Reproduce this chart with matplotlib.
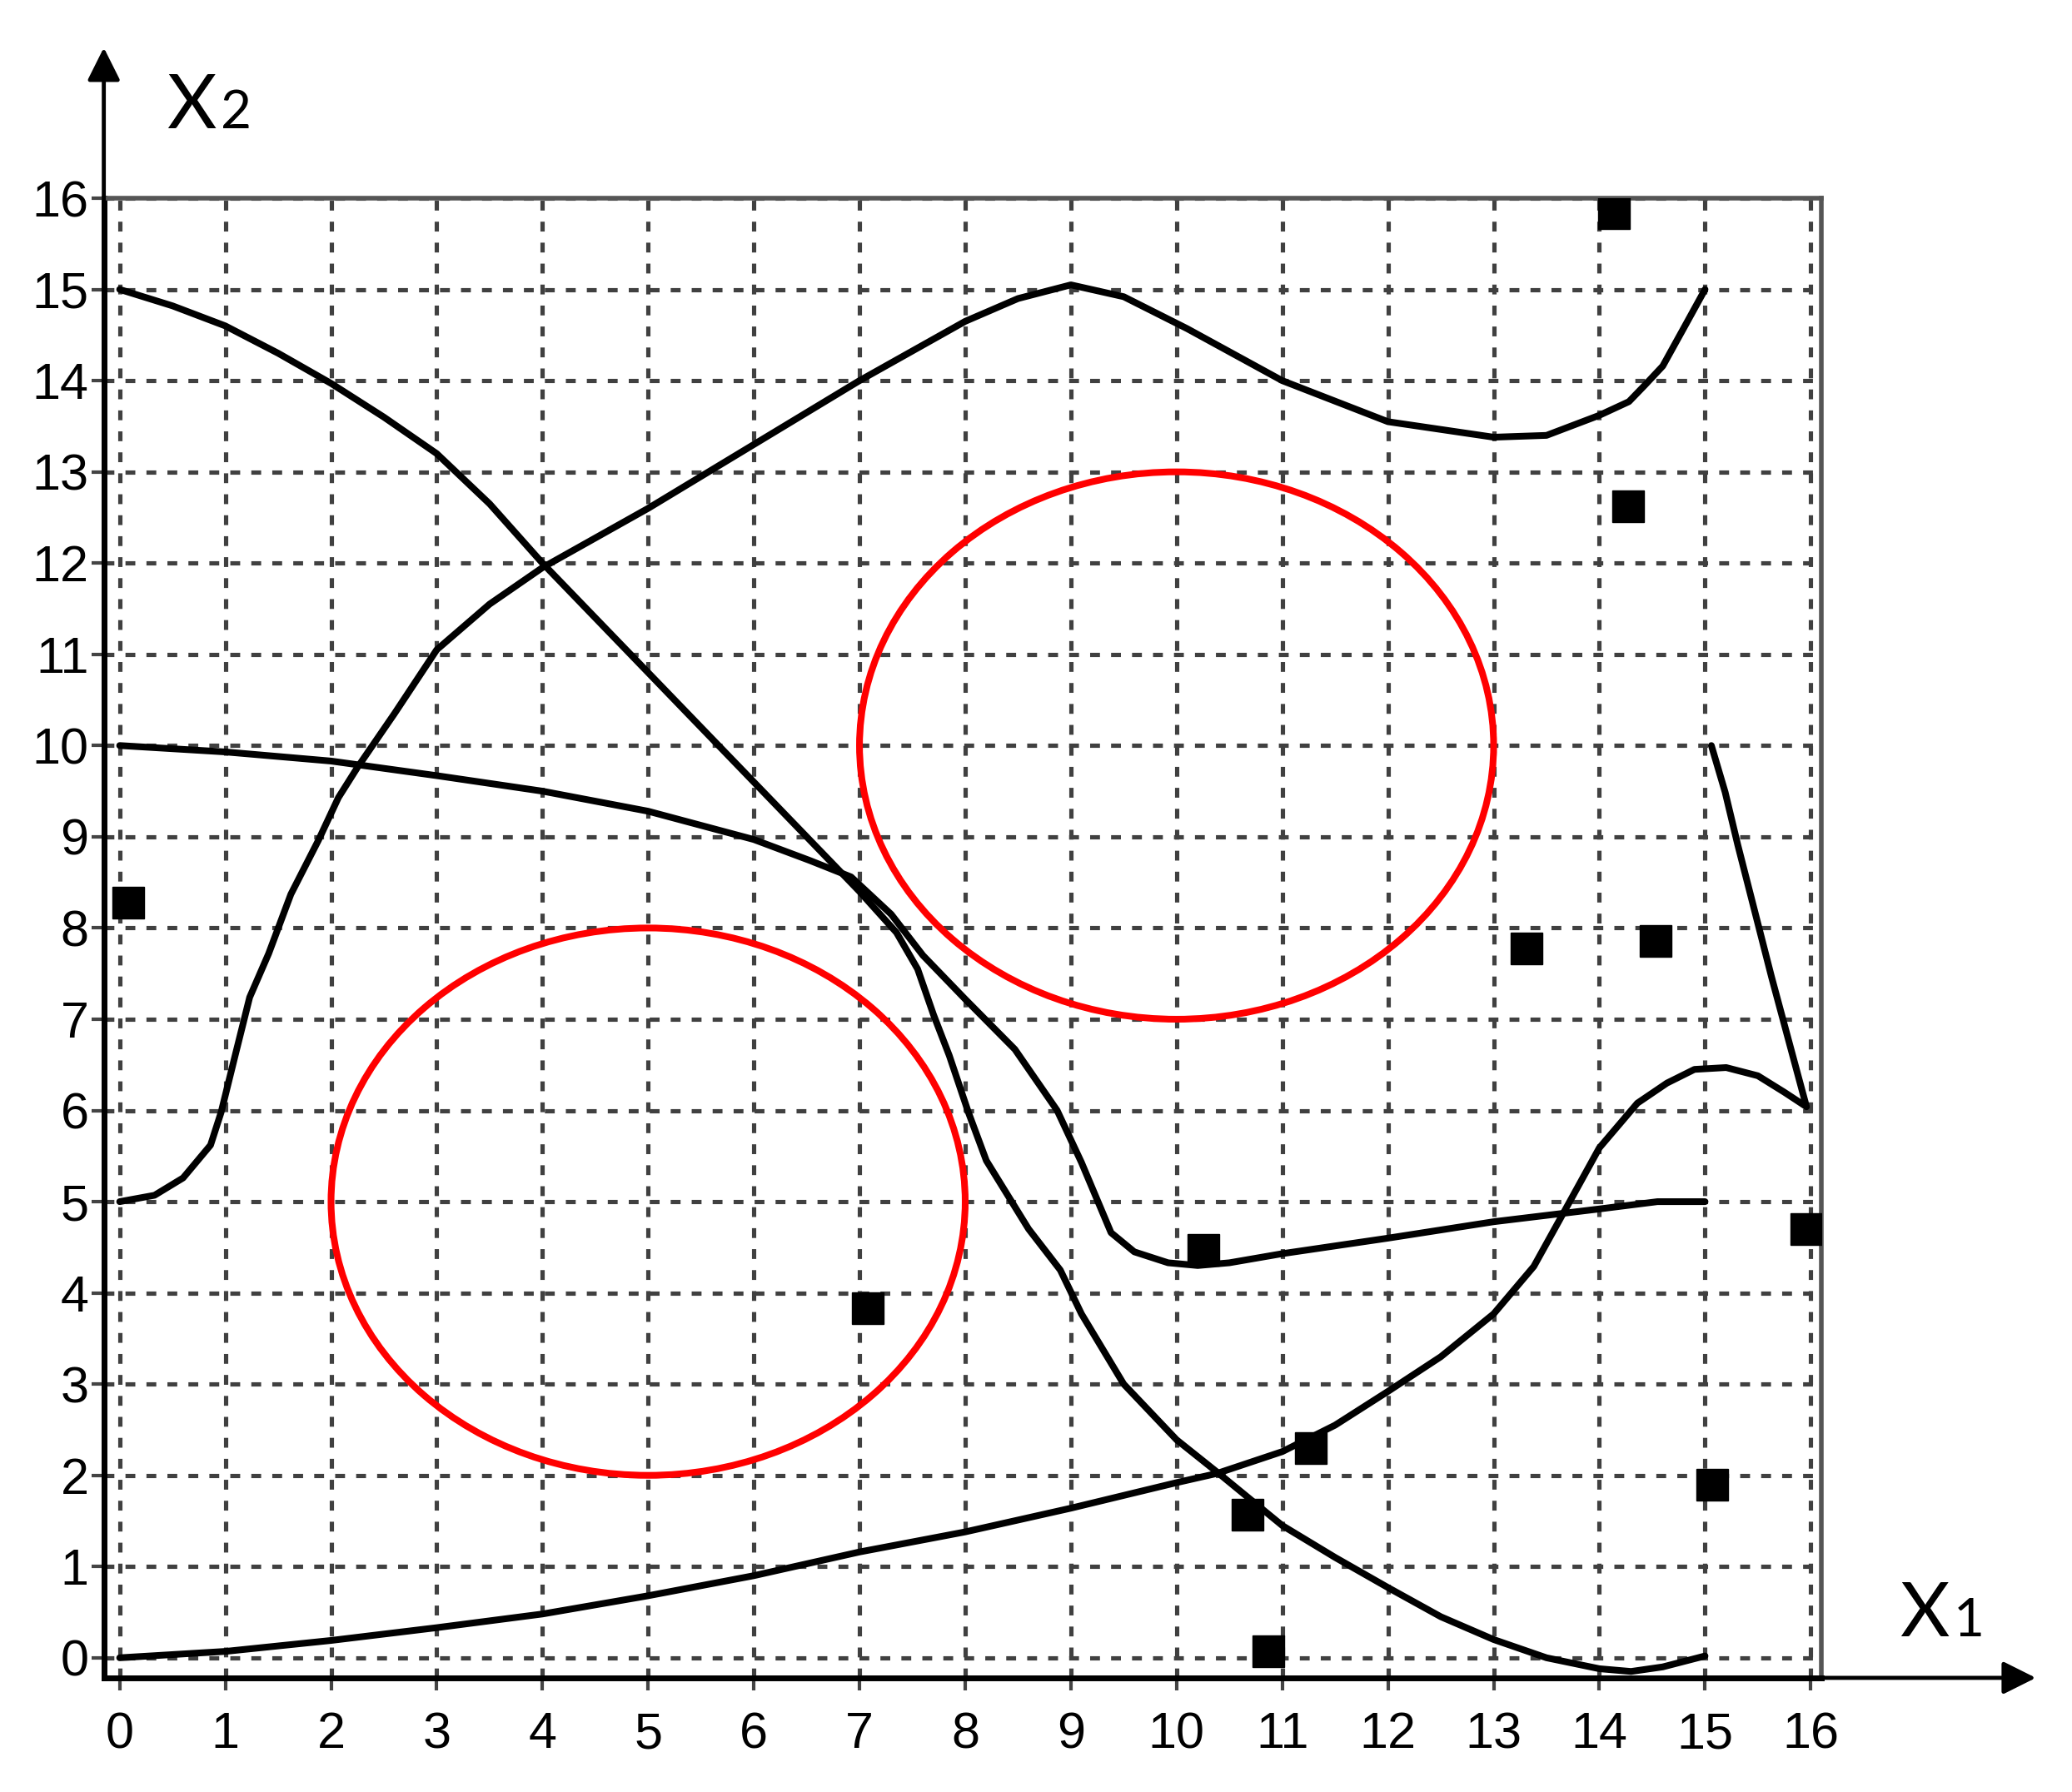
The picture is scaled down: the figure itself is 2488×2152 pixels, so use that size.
import numpy as np
import matplotlib
matplotlib.use("Agg")
import matplotlib.pyplot as plt
from matplotlib.patches import Ellipse

plt.rcParams["font.family"] = ["Liberation Sans", "DejaVu Sans"]

# --- data ---
ticks = list(range(17))

curve_a_x = [0, 0.5, 1, 1.5, 2, 2.5, 3, 3.5, 4, 4.5, 5, 5.5, 6, 6.5, 7, 7.35, 7.55, 7.7,
             7.85, 8.03, 8.2, 8.6, 8.9, 9.1, 9.5, 10, 10.4, 11, 11.5, 12, 12.5, 13, 13.5,
             14, 14.3, 14.6, 15]
curve_a_y = [15, 14.82, 14.6, 14.3, 13.97, 13.6, 13.2, 12.65, 12.0, 11.4, 10.8, 10.2, 9.6,
             9.0, 8.4, 7.95, 7.55, 7.05, 6.6, 5.98, 5.45, 4.7, 4.25, 3.77, 3.0, 2.39, 2.02,
             1.45, 1.1, 0.77, 0.45, 0.2, 0.0, -0.12, -0.15, -0.1, 0.02]

curve_b_x = [0, 0.33, 0.6, 0.86, 0.96, 1.09, 1.23, 1.41, 1.62, 1.88, 2.07, 2.25, 2.6, 3.0,
             3.5, 4.0, 5, 6, 7, 8, 8.5, 9.0, 9.5, 10.1, 11, 12, 13, 13.5, 14.0, 14.28,
             14.43, 14.6, 14.81, 15]
curve_b_y = [5, 5.07, 5.26, 5.62, 5.98, 6.59, 7.24, 7.72, 8.37, 8.96, 9.43, 9.76, 10.35,
             11.05, 11.55, 11.95, 12.6, 13.3, 14.0, 14.65, 14.9, 15.05, 14.92, 14.57, 14.0,
             13.55, 13.38, 13.4, 13.62, 13.77, 13.95, 14.16, 14.6, 15.0]

curve_c_x = [0, 1, 2, 3, 4, 5, 6, 6.53, 6.92, 7.3, 7.6, 8.0, 8.47, 8.87, 9.1, 9.38, 9.6,
             9.92, 10.2, 10.5, 11, 12, 13, 14, 14.55, 15]
curve_c_y = [10, 9.93, 9.83, 9.67, 9.5, 9.28, 8.97, 8.74, 8.56, 8.15, 7.7, 7.22, 6.67, 6.0,
             5.43, 4.66, 4.45, 4.33, 4.3, 4.33, 4.43, 4.6, 4.78, 4.92, 5.0, 5.0]

curve_d_x = [0, 1, 2, 3, 4, 5, 6, 7, 8, 9, 10, 10.38, 11, 11.5, 12, 12.5, 13, 13.38, 13.71,
             14.0, 14.36, 14.64, 14.9, 15.2, 15.5, 15.75, 15.96, 15.63, 15.31, 15.19, 15.06]
curve_d_y = [0, 0.07, 0.19, 0.33, 0.48, 0.68, 0.9, 1.16, 1.38, 1.64, 1.92, 2.02, 2.26,
             2.55, 2.92, 3.3, 3.77, 4.29, 4.98, 5.59, 6.08, 6.3, 6.45, 6.47, 6.38, 6.2,
             6.04, 7.46, 8.91, 9.49, 10.0]

circle_cx = [5, 10]
circle_cy = [5, 10]
circle_r = [3, 3]

points_x = [0.08, 7.08, 10.25, 10.67, 11.27, 10.87, 14.14, 14.27, 13.31, 14.53, 15.96, 15.07]
points_y = [8.28, 3.83, 4.47, 1.57, 2.30, 0.07, 15.84, 12.62, 7.78, 7.86, 4.70, 1.90]

# --- figure ---
fig = plt.figure(figsize=(24.88, 21.52), dpi=100)
ax = fig.add_axes([0.0501, 0.0637, 0.879 - 0.0501, 0.8894 - 0.0637])
xmin, xmax = -0.15, 16.1
ymin, ymax = -0.22, 16.0
ax.set_xlim(xmin, xmax)
ax.set_ylim(ymin, ymax)

ax.set_xticks(ticks)
ax.set_yticks(ticks)
ax.set_axisbelow(True)
ax.grid(True, color="#404040", linewidth=3.7, linestyle=(0, (2.3, 2.6)))

ax.tick_params(axis="both", direction="out", length=11, width=3, color="#444444",
               labelsize=44, labelcolor="black")
ax.tick_params(axis="x", pad=18)
ax.tick_params(axis="y", pad=2)

for side in ["left", "bottom"]:
    ax.spines[side].set_color("black")
    ax.spines[side].set_linewidth(5)
for side in ["top", "right"]:
    ax.spines[side].set_color("#555555")
    ax.spines[side].set_linewidth(4)

line_kw = dict(color="black", linewidth=5.8, solid_joinstyle="round", solid_capstyle="round")
ax.plot(curve_a_x, curve_a_y, **line_kw)
ax.plot(curve_b_x, curve_b_y, **line_kw)
ax.plot(curve_c_x, curve_c_y, **line_kw)
ax.plot(curve_d_x, curve_d_y, **line_kw)

for cx, cy, r in zip(circle_cx, circle_cy, circle_r):
    ax.add_patch(Ellipse((cx, cy), 2 * r, 2 * r, fill=False, edgecolor="#ff0000",
                         linewidth=5.8))

ax.plot(points_x, points_y, linestyle="none", marker="s", markersize=27,
        color="black", zorder=5)

# axis arrows
arrow_kw = dict(arrowstyle="-|>", color="black", lw=3.5, mutation_scale=60,
                shrinkA=0, shrinkB=0)
ax.annotate("", xy=(xmin, 17.65), xytext=(xmin, ymin), xycoords="data",
            arrowprops=arrow_kw, annotation_clip=False)
ax.annotate("", xy=(18.13, ymin), xytext=(xmin, ymin), xycoords="data",
            arrowprops=arrow_kw, annotation_clip=False)

# axis names: big "X" followed by a smaller digit on the same baseline
name_font = ["Lato", "DejaVu Sans"]
renderer = fig.canvas.get_renderer()
fig_w = fig.get_size_inches()[0] * fig.dpi


def axis_name(x, y, digit):
    t = fig.text(x, y, "X", fontsize=66, family=name_font, va="baseline", ha="left")
    right = t.get_window_extent(renderer).x1 / fig_w
    fig.text(right + 0.002, y, digit, fontsize=46, family=name_font,
             va="baseline", ha="left")


axis_name(0.0805, 0.9284, "2")
axis_name(0.917, 0.0870, "1")

fig.savefig("out.png", dpi=100, facecolor="white")
